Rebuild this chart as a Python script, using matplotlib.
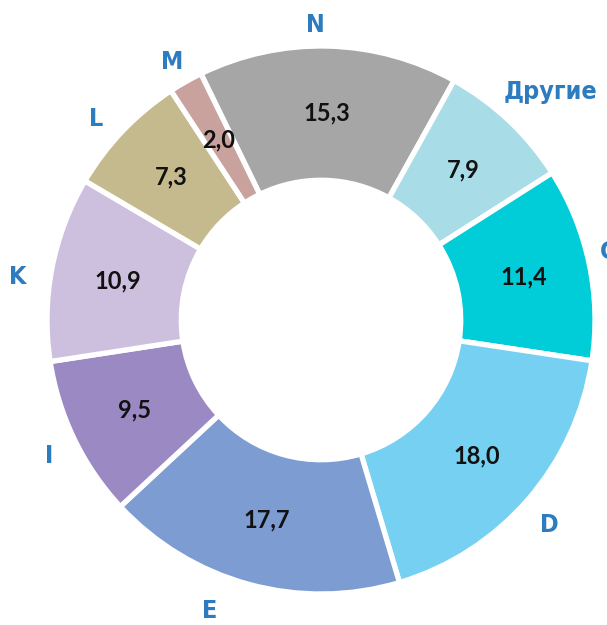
import numpy as np
import matplotlib
matplotlib.use("Agg")
import matplotlib.pyplot as plt

# shares, clockwise from the top
labels = ["N", "Другие", "C", "D", "E", "I", "K", "L", "M"]
values = [15.3, 7.9, 11.4, 18.0, 17.7, 9.5, 10.9, 7.3, 2.0]
colors = ["#A6A6A6", "#A8DCE7", "#00CDD7", "#76D0F1", "#7C9CD2",
          "#9B89C4", "#CDC0DE", "#C5BA8D", "#C9A19D"]

# small nudges (px) for the outer labels
label_nudge = {"N": (-14, -7), "Другие": (22, 8), "C": (-8, 5), "D": (0, -7),
               "E": (-32, 0), "I": (0, -4), "K": (-7, -14), "L": (-6, -7), "M": (0, -5)}

W, H = 607, 625
fig = plt.figure(figsize=(W / 100, H / 100), dpi=100)
ax = fig.add_axes([0, 0, 1, 1])

R = 274
wedges, _ = ax.pie(values, colors=colors, startangle=116, counterclock=False,
                   radius=R, wedgeprops=dict(width=R * 0.49, edgecolor="white", linewidth=3.8))

for w, lab, v in zip(wedges, labels, values):
    mid = np.deg2rad((w.theta1 + w.theta2) / 2)
    # value inside the ring
    r_in = 0.755 * R
    ax.text(r_in * np.cos(mid), r_in * np.sin(mid), f"{v:.1f}".replace(".", ","),
            ha="center", va="center", fontsize=17, fontweight="bold",
            family=["Lato", "DejaVu Sans"], color="#111111")
    # category outside
    r_out = 302
    dx, dy = label_nudge[lab]
    ax.text(r_out * np.cos(mid) + dx, r_out * np.sin(mid) + dy, lab,
            ha="center", va="center", fontsize=18, fontweight="bold",
            fontstretch="condensed", family=["DejaVu Sans"], color="#2E7CC0")

# centre of the ring sits at (321, 320) px in the picture
ax.set_xlim(-321, W - 321)
ax.set_ylim(-(H - 320), 320)
ax.set_aspect("equal")
ax.axis("off")

fig.savefig("out.png", dpi=100)
